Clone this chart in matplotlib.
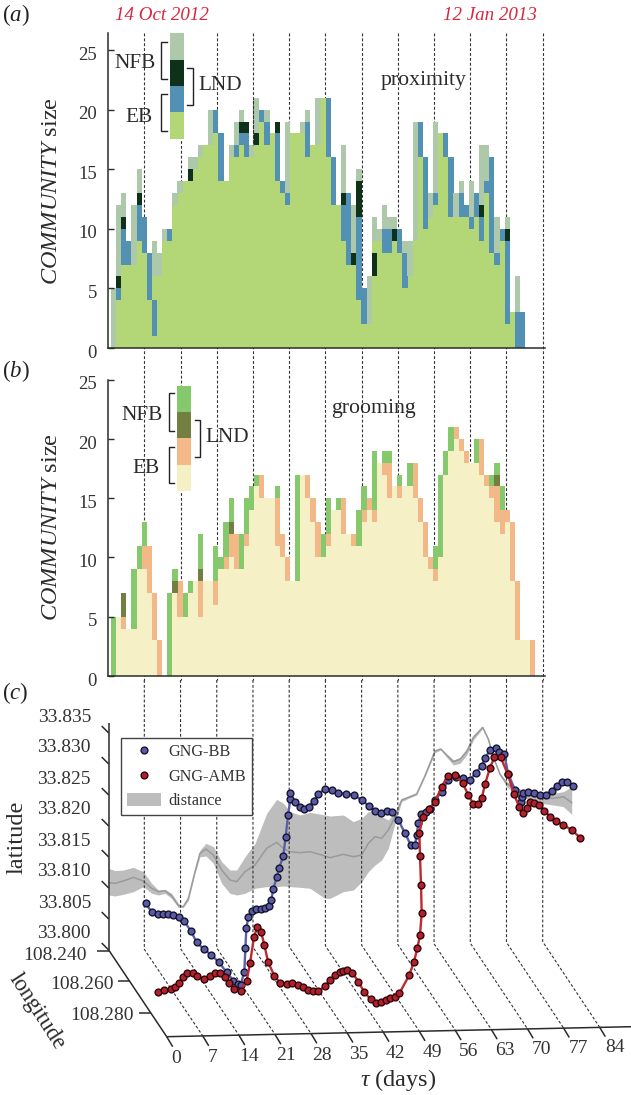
import numpy as np
import matplotlib
matplotlib.use("Agg")
import matplotlib.pyplot as plt
from matplotlib.patches import Patch
from matplotlib.lines import Line2D
from matplotlib.transforms import ScaledTranslation

plt.rcParams['font.family'] = ['Liberation Serif', 'DejaVu Sans']
plt.rcParams['mathtext.fontset'] = 'custom'
plt.rcParams['mathtext.rm'] = 'Liberation Serif'
plt.rcParams['mathtext.it'] = 'Liberation Serif:italic'
plt.rcParams['mathtext.bf'] = 'Liberation Serif:bold'

# ---------- panel (a) proximity ----------
a_eb = [0,4,7,7,7,9,8,4,1,6, 9,9,12,13,14,14,15,16,17,17, 18,14,14,16,16,17,16,16,17,19,
        17,18,14,13,12,18,18,18,16,17, 17,21,16,12,12,9,7,7,4,2, 2,6,9,8,8,9,8,5,6,9,
        16,10,11,12,18,16,11,11,11,11, 10,11,9,13,8,7,9,2,3,0, 0]
a_blue = [0,1,3,2,0,3,3,4,3,0, 0,1,0,0,0,0,0,0,0,0, 2,4,0,0,1,1,2,0,0,1,
          2,0,4,1,1,0,0,0,3,0, 0,0,5,4,0,3,6,0,7,3, 0,0,0,2,2,0,2,3,0,0,
          3,6,0,1,0,2,5,0,2,1, 1,2,2,1,8,1,1,7,0,3, 3]
a_dark = [0,1,1,0,0,1,0,0,0,0, 0,0,0,0,0,1,0,0,0,0, 0,0,0,0,0,1,1,0,1,0,
          0,0,1,0,0,0,0,0,0,0, 0,0,0,0,0,1,0,1,3,0, 0,2,0,0,0,1,0,0,0,0,
          0,0,0,0,0,0,0,0,0,0, 0,0,1,0,0,0,0,1,0,0, 0]
a_eb_upper = [0,0,0,0,0,0,0,0,2,0, 0,0,0,0,0,0,0,0,0,0, 0,0,0,0,0,0,0,0,0,0,
              0,0,0,0,0,0,0,0,0,0, 0,0,0,0,0,0,0,0,0,0, 0,1,0,0,0,0,0,0,0,0,
              0,0,0,0,0,0,0,0,0,0, 0,0,0,0,0,0,0,0,0,0, 0]
a_nfb = [5,6,2,0,5,2,0,0,3,2, 1,0,1,1,0,1,1,1,0,3, 0,0,0,1,2,1,0,1,3,0,
         1,0,0,0,6,0,0,1,1,0, 4,0,0,0,0,4,0,4,1,0, 4,2,1,2,1,1,0,1,3,10,
         0,0,2,6,0,0,0,2,1,0, 3,0,5,3,0,3,0,1,0,3, 0]

# ---------- panel (b) grooming ----------
b_eb = [0,5,4,4,4,9,9,7,3,0, 0,0,7,5,5,7,8,5,8,8, 6,9,9,10,9,9,11,14,16,15,
        15,15,11,10,8,8,8,17,15,13, 10,10,11,14,14,12,12,11,11,13, 14,13,18,17,15,16,15,16,16,15,
        13,10,9,8,10,17,19,20,19,18, 18,18,17,16,15,13,12,13,8,3, 3,3,0]
b_orange = [0,0,1,0,0,0,2,4,4,3, 0,0,0,3,0,0,0,3,0,0, 2,0,1,2,3,0,1,0,0,2,
            0,0,4,2,2,0,0,0,2,2, 3,0,1,0,0,3,0,1,0,1, 1,1,0,1,3,0,1,0,0,3,
            2,3,1,1,0,0,0,1,1,1, 0,0,3,1,1,3,2,1,5,5, 0,0,3]
b_olive = [0,0,2,0,0,0,0,0,0,0, 0,0,1,0,0,0,0,1,0,0, 0,0,0,1,0,0,0,0,0,0,
           0,0,0,0,0,0,0,0,0,0, 0,0,0,0,0,0,0,0,0,0, 0,0,0,0,0,0,0,0,0,0,
           0,0,0,0,0,0,0,0,0,0, 0,0,0,0,0,1,0,0,0,0, 0,0,0]
b_green = [5,0,0,0,5,2,2,0,0,0, 0,7,1,0,2,1,0,3,0,0, 3,1,3,2,0,3,3,2,1,0,
           0,0,1,0,0,0,9,0,0,0, 0,2,3,0,1,0,0,0,3,2, 0,5,0,1,1,0,1,0,2,0,
           0,0,0,2,7,2,2,0,0,0, 0,2,0,0,1,1,2,0,0,0, 0,0,0]

community_ticks = [0, 5, 10, 15, 20, 25]
day_ticks = [0, 7, 14, 21, 28, 35, 42, 49, 56, 63, 70, 77, 84]
lat_ticks = ['33.800', '33.805', '33.810', '33.815', '33.820', '33.825', '33.830', '33.835']
lon_ticks = ['108.240', '108.260', '108.280']

# ---------- panel (c): apparent position on the picture plane
# tau in days, latitude as thousandths of a degree above 33.800
bb_tau = [7.24,8.49,9.58,10.55,11.51,12.61,13.64,14.67,15.96,17.12,18.54,19.95,21.37,22.92,24.21,25.11,25.62,
          26.33,26.53,26.72,27.10,27.75,28.59,29.49,30.33,31.04,31.55,31.94,32.58,33.10,33.87,34.32,34.78,35.22,35.16,
          36.13,37.09,37.87,38.77,39.80,40.63,41.92,43.21,44.50,45.98,47.52,49.0,50.42,51.65,52.68,53.84,54.93,56.10,
          57.38,58.48,59.32,59.64,59.97,60.48,61.38,62.22,63.19,64.48,65.77,67.19,68.67,69.96,71.05,72.21,72.92,73.82,
          74.92,75.63,76.53,77.36,78.65,79.81,80.01,80.27,81.23,82.33,83.49,84.65,85.74,86.70,87.67,88.76,89.92]
bb_lat = [7.53,6.08,5.75,5.75,5.75,5.65,5.27,4.68,3.12,1.24,0.11,-0.81,-1.94,-3.60,-4.95,-5.48,-5.65,
          -3.49,0.27,3.49,5.38,6.29,6.61,6.67,6.77,7.10,8.06,9.89,11.72,13.28,15.22,18.28,21.77,24.30,25.27,
          23.82,23.12,22.69,23.12,24.09,25.16,26.02,25.81,25.32,25.22,25.0,24.19,23.23,22.42,22.10,22.37,22.20,20.97,
          18.82,16.99,16.99,18.55,20.54,21.88,22.31,22.69,24.19,25.54,27.42,27.96,27.80,27.47,28.55,29.73,31.02,32.26,
          32.63,31.99,31.61,28.33,25.81,23.92,24.73,25.27,25.48,25.27,25.0,25.05,25.70,26.45,27.04,27.15,26.45]
amb_tau = [9.58,10.81,12.09,12.93,13.77,14.54,15.32,16.35,17.25,18.54,19.70,20.66,21.63,22.60,23.43,24.34,25.62,
           26.78,27.43,28.20,28.85,29.56,30.20,30.91,32.13,33.23,34.52,35.61,36.64,37.74,38.70,39.67,40.63,41.92,42.89,
           43.86,44.82,45.47,46.24,47.21,48.37,49.46,50.75,51.72,52.68,53.65,54.49,55.39,56.29,58.22,59.12,59.77,60.28,
           60.61,60.48,60.28,60.16,60.81,62.09,63.19,64.48,65.64,67.06,68.54,69.63,70.60,71.57,72.21,72.86,73.82,74.66,
           75.88,77.23,78.46,79.49,80.27,80.91,81.55,82.33,83.36,84.33,85.42,86.52,88.0,89.61,91.22]
amb_lat = [-6.72,-6.45,-6.34,-6.02,-5.27,-4.30,-3.76,-3.76,-4.19,-4.68,-4.19,-3.66,-3.66,-4.30,-5.27,-6.29,-6.56,
           -4.95,-2.15,2.15,3.66,2.96,0.81,-1.88,-4.19,-5.27,-5.54,-5.38,-5.59,-6.02,-6.45,-6.67,-6.67,-5.81,-4.84,
           -4.03,-3.49,-3.33,-3.23,-3.66,-5.11,-6.72,-7.96,-8.49,-8.39,-8.06,-7.80,-7.63,-6.99,-4.03,-1.88,0.27,2.42,
           5.91,10.48,15.22,18.82,21.51,22.69,23.92,26.34,28.06,28.23,26.88,25.0,23.55,23.49,24.46,26.77,29.41,31.08,
           31.08,28.39,25.11,23.01,22.15,22.85,23.92,23.76,23.39,22.47,21.51,20.81,20.16,19.35,18.12]
dist_tau = [0.11,1.33,2.94,4.88,6.81,8.42,9.71,11.0,12.29,13.58,14.54,15.51,16.80,17.76,18.92,20.34,21.95,23.56,24.85,
            26.46,28.40,30.65,32.58,33.87,35.16,37.09,39.03,41.92,42.89,45.47,47.40,49.01,50.30,51.59,52.88,54.16,55.45,
            56.74,58.03,59.64,61.25,63.19,64.28,65.44,66.73,68.02,69.31,70.60,72.40,73.50,74.46,75.75,77.04,78.65,80.91,
            83.49,86.06,87.99,89.60]
dist_hi = [13.17,12.80,12.90,13.33,12.63,10.75,9.68,9.78,9.14,7.53,6.99,8.60,12.90,16.13,17.20,16.67,14.25,12.90,12.90,
           15.05,17.20,22.04,24.30,23.66,22.31,21.77,22.20,21.77,21.61,21.77,20.70,21.24,22.31,22.31,21.51,20.97,22.31,
           24.46,24.73,25.27,28.23,32.26,32.53,31.61,30.65,31.08,32.53,34.68,36.02,34.14,31.18,28.49,27.15,26.34,25.54,
           25.27,25.27,25.54,26.34]
dist_mid = [10.86,10.75,11.13,11.72,11.13,9.95,9.41,9.57,8.71,7.15,6.99,8.33,12.63,15.59,16.29,15.32,12.90,11.29,11.02,
            12.63,13.71,16.40,17.37,16.40,15.86,15.70,15.86,15.16,14.89,15.43,15.05,15.32,17.20,18.28,18.01,19.35,21.51,
            24.19,24.62,25.16,28.12,32.10,32.42,31.45,30.38,30.75,31.99,34.30,35.91,33.98,31.08,28.33,26.88,25.81,25.0,
            24.46,24.46,24.73,23.76]
dist_lo = [8.87,8.71,8.98,9.41,10.22,9.14,8.87,9.14,8.33,6.88,6.88,7.96,12.37,15.05,15.16,13.98,10.75,9.14,8.87,
           9.14,9.95,10.22,10.22,10.32,10.22,10.11,9.95,8.33,8.33,9.41,9.68,11.02,12.63,13.71,14.52,16.40,20.43,
           23.92,24.46,25.0,27.96,31.83,32.26,31.08,29.84,30.11,31.45,33.87,35.75,33.87,30.91,28.12,26.34,25.27,24.46,
           23.66,23.39,23.12,21.88]

# ---------- layout ----------
W, H = 631, 1095
PX_DAY = 5.174      # pixels per day
X0 = 108.1          # pixel of tau = 0
BAR_START, BAR_STEP = 0.56, 0.988
INK = '#2b2b2b'

fig = plt.figure(figsize=(W/100, H/100), dpi=100, facecolor='white')

def px_axes(left, right, top, bottom, z):
    ax = fig.add_axes([left/W, 1-bottom/H, (right-left)/W, (bottom-top)/H], zorder=z)
    ax.patch.set_alpha(0)
    return ax

bg = px_axes(0, W, 0, H, 0)      # guide lines behind everything
bg.set_xlim(0, W); bg.set_ylim(H, 0); bg.axis('off')
fg = px_axes(0, W, 0, H, 5)      # annotation layer
fg.set_xlim(0, W); fg.set_ylim(H, 0); fg.axis('off')

def stacked_panel(ax, layers, colors):
    x = BAR_START + BAR_STEP*np.arange(len(layers[0]))
    bottom = np.zeros(len(x))
    for vals, c in zip(layers, colors):
        ax.bar(x, vals, width=BAR_STEP*1.01, bottom=bottom, align='edge', color=c, linewidth=0)
        bottom = bottom + np.array(vals)
    ax.set_xlim(0, 84.4)
    ax.set_xticks([])
    ax.set_yticks(community_ticks)
    ax.tick_params(axis='y', direction='in', length=4.5, width=1, colors=INK, labelsize=13.5, pad=8)
    for s in ('top', 'right'):
        ax.spines[s].set_visible(False)
    for s in ('left', 'bottom'):
        ax.spines[s].set_linewidth(1.1)
        ax.spines[s].set_color(INK)
    for lab in ax.get_yticklabels():
        lab.set_transform(lab.get_transform() + ScaledTranslation(0, -3.2/100, fig.dpi_scale_trans))
        lab.set_color('#333333')

RIGHT = X0 + 84.4*PX_DAY

# panel a
ax_a = px_axes(X0, RIGHT, 33, 348, 1)
ax_a.set_ylim(0, 315/11.92)
a_cols = ['#B3D677', '#5290B4', '#0F3119', '#B3D677', '#AEC8AA']
stacked_panel(ax_a, [a_eb, a_blue, a_dark, a_eb_upper, a_nfb], a_cols)
# colour key
for k, c in enumerate(['#B3D677', '#5290B4', '#0F3119', '#AEC8AA']):
    ax_a.bar(12.0, 2.21, width=2.7, bottom=17.56+2.21*k, align='edge', color=c, linewidth=0)

# panel b
ax_b = px_axes(X0, RIGHT, 379.7, 676, 1)
ax_b.set_ylim(0, 25)
b_cols = ['#F5F0C6', '#F2B888', '#727F40', '#86C96C']
stacked_panel(ax_b, [b_eb, b_orange, b_olive, b_green], b_cols)
for k, c in enumerate(b_cols):
    ax_b.bar(13.35, 2.22, width=2.7, bottom=15.6+2.22*k, align='edge', color=c, linewidth=0)

# panel c: x in days, y in thousandths of a degree, same pixel scale as picture
ax_c = px_axes(0, W, 680, H, 1)
ax_c.set_xlim(-X0/PX_DAY, (W-X0)/PX_DAY)
ax_c.set_ylim((950-H)/6.2, (950-680)/6.2)
ax_c.axis('off')
ax_c.fill_between(dist_tau, dist_lo, dist_hi, color='#BDBDBD', linewidth=0, zorder=1)
ax_c.plot(dist_tau, dist_mid, color='#9A9A9A', lw=1.1, zorder=2)
ax_c.plot(bb_tau, bb_lat, '-', color='#5A5FA8', lw=1.7, zorder=3)
ax_c.plot(bb_tau, bb_lat, 'o', mfc='#5A5AA6', mec='#15152B', mew=1.0, ms=4.9, zorder=3)
ax_c.plot(amb_tau, amb_lat, '-', color='#C2272D', lw=1.7, zorder=4)
ax_c.plot(amb_tau, amb_lat, 'o', mfc='#B3202C', mec='#2E080C', mew=1.0, ms=4.9, zorder=4)

handles = [Line2D([], [], ls='', marker='o', mfc='#5A5AA6', mec='#15152B', mew=1.0, ms=4.9),
           Line2D([], [], ls='', marker='o', mfc='#B3202C', mec='#2E080C', mew=1.0, ms=4.9),
           Patch(facecolor='#BDBDBD', edgecolor='none')]
leg = ax_c.legend(handles, ['GNG-BB', 'GNG-AMB', 'distance'], loc='upper left',
                  bbox_to_anchor=(120.7/W, 1-738.3/H), bbox_transform=fig.transFigure,
                  fontsize=11.7, frameon=True, fancybox=False, framealpha=1, edgecolor='#444444',
                  borderaxespad=0, borderpad=0.36, labelspacing=0.49, handlelength=2.15,
                  handletextpad=0.42, handleheight=0.9)
leg.get_frame().set_linewidth(1.0)
leg.set_zorder(10)
for t in leg.get_texts():
    t.set_color('#333333')

# guide lines: behind the bars of (a) and (b), over the ribbon of (c)
DASH = dict(color='#333333', lw=0.8, ls=(0, (2.6, 1.8)))
def back_y(tau):
    return 950 - tau*8.3/84
def to_c(x, y):
    return (x - X0)/PX_DAY, (950 - y)/6.2
for tau in day_ticks[1:]:
    x = X0 + tau*PX_DAY
    y = back_y(tau)
    bg.plot([x, x], [33, 680], **DASH)
    fx = 166.7 + tau*5.15
    fy = 1036.7 - tau*10/432*5.15
    p0, p1, p2 = to_c(x, 680), to_c(x, y), to_c(fx, fy)
    ax_c.plot([p0[0], p1[0], p2[0]], [p0[1], p1[1], p2[1]], zorder=2.5, **DASH)
# the tau = 28 guide stays visible over the top of the bars
fg.plot([X0 + 28*PX_DAY]*2, [100, 145], **DASH)

# 3-D frame of panel c
LN = dict(color=INK, lw=1.1, solid_capstyle='butt')
fg.plot([108.7, 108.7], [723, 950], **LN)
fg.plot([108.7, 166.7], [950, 1036.7], **LN)
fg.plot([166.7, 631], [1036.7, 1026.7], **LN)
for k, lab in enumerate(lat_ticks):
    y = 950 - 31*k
    fg.plot([108.7, 101.7], [y, y-7], **LN)
    fg.text(91, y-16, lab, ha='right', va='center', fontsize=14, color='#333333')
for k, (lab, lx) in enumerate(zip(lon_ticks, [87, 114, 134])):
    d = k*0.362
    x = 108.7 + 58*d
    y = 950 + 86.7*d + (0 if k else 1)
    fg.plot([x, x-12], [y, y], **LN)
    fg.text(lx, y+3 + (1 if k == 0 else 0), lab, ha='right', va='center', fontsize=14, color='#333333')
for tau in day_ticks:
    fx = 166.7 + tau*5.15
    fy = 1036.7 - tau*10/432*5.15
    fg.plot([fx, fx+6], [fy, fy+10], **LN)
    fg.text(175.7 + tau*5.23, 1058.5 - tau*10.5/84, str(tau), ha='center', va='center',
            fontsize=14, color='#333333')

# text
TXT = dict(color='#2b2b2b', ha='center', va='center')
fg.text(2, 15, r'($\mathit{a}$)', ha='left', va='center', fontsize=16.5, color='#222222')
fg.text(2, 371, r'($\mathit{b}$)', ha='left', va='center', fontsize=16.5, color='#222222')
fg.text(2, 693, r'($\mathit{c}$)', ha='left', va='center', fontsize=16.5, color='#222222')
fg.text(115, 15, '14 Oct 2012', ha='left', va='center', style='italic', fontsize=13.7, color='#D9263F')
fg.text(442.7, 15, '12 Jan 2013', ha='left', va='center', style='italic', fontsize=13.7, color='#D9263F')
fg.text(423.7, 80, 'proximity', fontsize=15.7, **TXT)
fg.text(373, 408, 'grooming', fontsize=15.7, **TXT)
fg.text(52, 191, r'$\mathit{COMMUNITY}$ size', fontsize=17.5, rotation=90, **TXT)
fg.text(52, 527, r'$\mathit{COMMUNITY}$ size', fontsize=17.5, rotation=90, **TXT)
fg.text(17, 837, 'latitude', fontsize=17.5, rotation=90, **TXT)
fg.text(36.5, 1012, 'longitude', fontsize=16.5, rotation=-57, rotation_mode='anchor', **TXT)
fg.text(398, 1080, r'$\tau$ (days)', fontsize=17.5, **TXT)

def bracket(x, y0, y1, foot):
    fg.plot([x+foot, x, x, x+foot], [y0, y0, y1, y1], color='#222222', lw=1.0, solid_joinstyle='miter')

bracket(161.3, 41.7, 79, 5.3)
bracket(161.3, 94.3, 131, 5.3)
bracket(192.7, 68.3, 105, -5.3)
fg.text(135, 63, 'NFB', fontsize=15.3, **TXT)
fg.text(138.5, 117, 'EB', fontsize=15.3, **TXT)
fg.text(220, 86, 'LND', fontsize=15.3, **TXT)
bracket(168.7, 393.3, 430.7, 5.3)
bracket(168.7, 446.7, 483.3, 5.3)
bracket(200, 420, 456.7, -5.3)
fg.text(142.3, 415, 'NFB', fontsize=15.3, **TXT)
fg.text(145.7, 468.3, 'EB', fontsize=15.3, **TXT)
fg.text(227, 437.7, 'LND', fontsize=15.3, **TXT)

fig.savefig('out.png', dpi=100)
